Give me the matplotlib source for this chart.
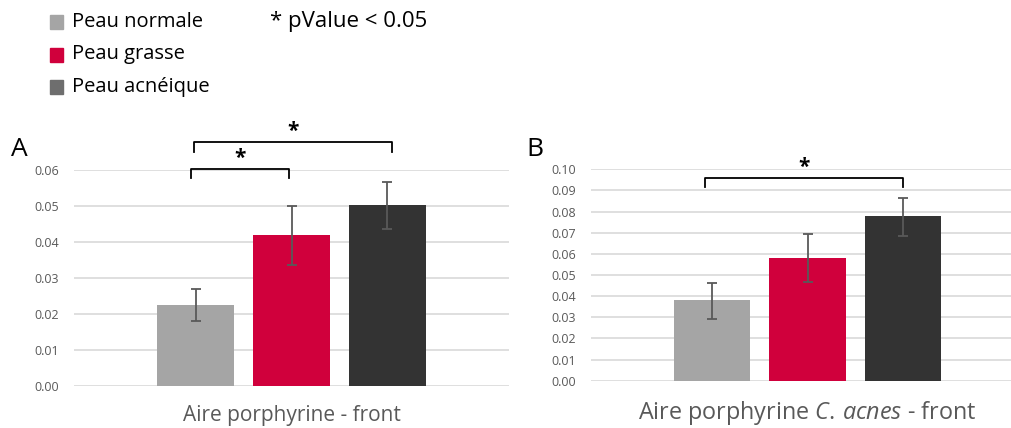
import matplotlib.pyplot as plt
from matplotlib.patches import Rectangle

plt.rcParams['font.family'] = ['Open Sans', 'DejaVu Sans']
plt.rcParams['mathtext.fontset'] = 'custom'
plt.rcParams['mathtext.rm'] = 'Open Sans'
plt.rcParams['mathtext.it'] = 'Open Sans:italic'

groups = ['Peau normale', 'Peau grasse', 'Peau acnéique']
bar_colors = ['#A5A5A5', '#D0003C', '#333333']
legend_colors = ['#A5A5A5', '#D0003C', '#6E6E6E']

# panel A : Aire porphyrine - front
a_mean = [0.0225, 0.0420, 0.0503]
a_low = [0.0180, 0.0335, 0.0435]
a_high = [0.0270, 0.0500, 0.0568]
a_ticks = [0.00, 0.01, 0.02, 0.03, 0.04, 0.05, 0.06]

# panel B : Aire porphyrine C. acnes - front
b_mean = [0.0380, 0.0580, 0.0780]
b_low = [0.0290, 0.0465, 0.0685]
b_high = [0.0463, 0.0692, 0.0866]
b_ticks = [0.00, 0.01, 0.02, 0.03, 0.04, 0.05, 0.06, 0.07, 0.08, 0.09, 0.10]

W, H = 1011, 428
fig = plt.figure(figsize=(W / 100, H / 100), dpi=100)

def px(x0, y0, x1, y1):
    # pixel box (top-left origin) -> figure fraction rect
    return [x0 / W, 1 - y1 / H, (x1 - x0) / W, (y1 - y0) / H]

def panel(ax, mean, low, high, ticks, ymax):
    xs = [-1, 0, 1]
    err = [[m - l for m, l in zip(mean, low)], [h - m for m, h in zip(mean, high)]]
    ax.bar(xs, mean, width=0.8, color=bar_colors, zorder=2)
    ax.errorbar(xs, mean, yerr=err, fmt='none', ecolor='#595959', elinewidth=1.3,
                capsize=3.5, capthick=1.3, zorder=3)
    ax.set_xlim(-2.27, 2.27)
    ax.set_ylim(0, ymax)
    ax.set_yticks(ticks)
    ax.set_yticklabels(['%.2f' % t for t in ticks])
    ax.set_xticks([])
    ax.grid(axis='y', color='#D9D9D9', lw=1.2, zorder=0)
    ax.set_axisbelow(True)
    for s in ax.spines.values():
        s.set_visible(False)
    ax.tick_params(axis='y', length=0, pad=11, labelsize=9, labelcolor='#595959')

def bracket(ax, x0, x1, y, leg):
    ax.plot([x0, x0, x1, x1], [y - leg, y, y, y - leg], color='black', lw=1.3, clip_on=False)
    ax.text((x0 + x1) / 2, y, '*', ha='center', va='bottom', fontsize=15, fontweight='bold')

axA = fig.add_axes(px(74, 170, 509, 385.7))
panel(axA, a_mean, a_low, a_high, a_ticks, 0.06)
bracket(axA, -1.05, -0.03, 0.0603, 0.0025)
bracket(axA, -1.02, 1.05, 0.0678, 0.0028)
axA.set_xlabel('Aire porphyrine - front', fontsize=15, color='#595959', labelpad=14)

axB = fig.add_axes(px(591, 169.3, 1024, 380.7))
panel(axB, b_mean, b_low, b_high, b_ticks, 0.10)
bracket(axB, -1.07, 1.0, 0.096, 0.0045)
axB.set_xlabel('Aire porphyrine $\\it{C.\\,acnes}$ - front', fontsize=16.8,
               color='#595959', labelpad=13)

fig.text(11 / W, 1 - 150 / H, 'A', fontsize=19, va='center')
fig.text(526 / W, 1 - 150 / H, 'B', fontsize=19, va='center')

# legend
for i, (g, c) in enumerate(zip(groups, legend_colors)):
    yc = 22 + 32.5 * i
    fig.patches.append(Rectangle((50 / W, 1 - (yc + 7) / H), 13 / W, 14 / H,
                                 transform=fig.transFigure, color=c))
    fig.text(72 / W, 1 - yc / H, g, fontsize=14.5, va='center')
fig.text(270 / W, 1 - 22 / H, '* pValue < 0.05', fontsize=16, va='center')

fig.savefig('out.png', dpi=100)
